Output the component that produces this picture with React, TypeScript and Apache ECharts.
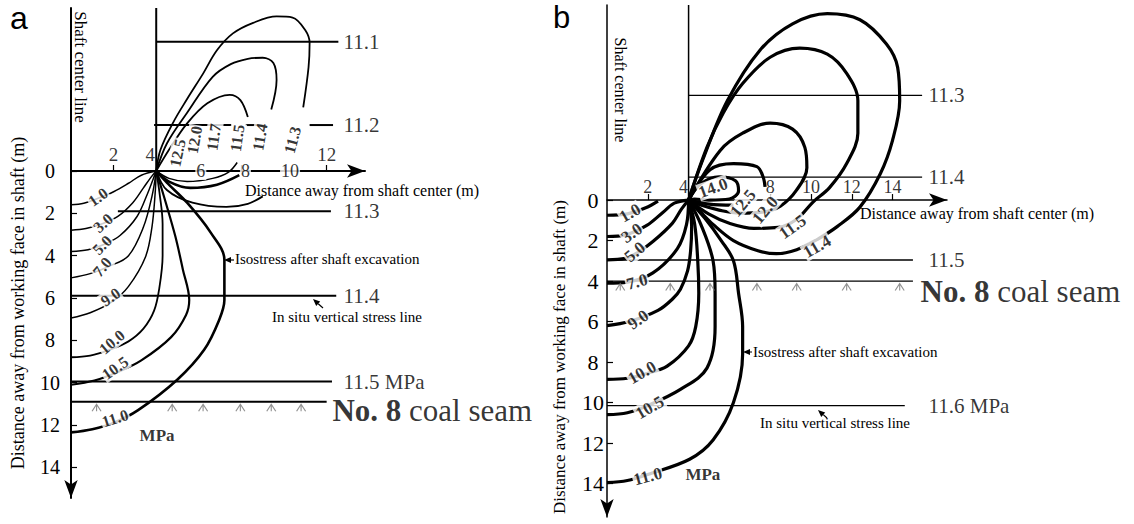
import React, { useEffect, useRef } from "react";
import * as echarts from "echarts";

const SERIF = "Liberation Serif";
const SANS = "Liberation Sans";

// ================= Panel a =================
const aYTicks = [0, 2, 4, 6, 8, 10, 12, 14];
const aXTickMarks = [2, 6, 8, 10, 12];
const aXLabelsAbove = [2, 4, 12];
const aXLabelsOnAxis = [6, 8, 10];
const aDepthMin = -7.7;
const aDepthMax = 15.45;
const aDistMax = 13.8;
const aWallX = 4;

const aStressNames = ["11.1", "11.2", "11.3", "11.4", "11.5 MPa"];
const aStressDepth = [-6.1, -2.17, 1.9, 5.9, 9.95];
const aStressFrom = [4, 3.9, 2.2, 0, 0];
const aStressTo = [12.55, 12.3, 12.2, 12.45, 12.25];
const aDashFrom = [3.9, 8.2, 11.2];
const aDashTo = [7.55, 9.0, 12.3];
const aStressLabelX = 12.77;
const aSeamDepth = 10.9;
const aSeamTo = 12.0;
const aSeamLabelAt = [12.25, 11.3];
const aHatchX = [1.2, 4.75, 6.2, 7.95, 9.4, 10.8];

const a1_0 = [[0, 1.6], [0.6, 1.52], [1.3, 1.28], [2.0, 0.98], [2.7, 0.58], [3.3, 0.2], [4, 0]];
const a3_0 = [[0, 2.8], [0.7, 2.72], [1.5, 2.48], [2.2, 2.15], [2.9, 1.5], [3.4, 0.8], [3.75, 0.3], [4, 0]];
const a5_0 = [[0, 3.8], [0.8, 3.72], [1.6, 3.45], [2.3, 3.05], [3.1, 2.15], [3.6, 1.05], [3.85, 0.4], [4, 0]];
const a7_0 = [[0, 5.05], [0.9, 4.85], [1.8, 4.5], [2.7, 4.0], [3.4, 2.65], [3.8, 1.2], [4, 0]];
const a9_0 = [[0, 6.95], [0.9, 6.7], [1.9, 6.2], [2.7, 5.45], [3.5, 4.05], [3.8, 2.65], [3.95, 1.05], [4, 0]];
const a10_0 = [[0, 8.8], [0.9, 8.72], [1.8, 8.45], [2.7, 8.05], [3.4, 7.45], [3.9, 6.6], [4.15, 5.5], [4.3, 4.0], [4.3, 2.5], [4.15, 1.0], [4, 0]];
const a10_5 = [[0, 10.1], [1.1, 9.9], [2.2, 9.5], [3.3, 8.95], [4.7, 7.85], [5.4, 6.8], [5.55, 6.1], [5.25, 4.65], [4.9, 3.1], [4.45, 1.5], [4, 0]];
const a11_0 = [[0, 12.35], [1.0, 12.2], [2.0, 11.9], [3.15, 11.3], [5.0, 9.85], [6.25, 8.45], [6.95, 7.05], [7.2, 6.1], [7.2, 4.2], [6.55, 2.9], [5.45, 1.5], [4.5, 0.55], [4, 0]];
const aU11_3 = [[4, 0], [4.2, -1.0], [4.8, -2.3], [5.45, -3.4], [6.2, -4.6], [6.85, -5.7], [7.6, -6.5], [8.55, -7.0], [9.65, -7.3], [10.4, -7.25], [11.0, -6.65], [11.2, -6.05], [11.15, -4.9], [10.9, -3.0]];
const aU11_4 = [[4, 0], [4.5, -1.3], [5.45, -2.75], [6.65, -4.45], [7.5, -5.05], [8.3, -5.3], [9.0, -5.35], [9.5, -5.1], [9.65, -4.3], [9.4, -2.9]];
const aU11_5 = [[4, 0], [4.6, -1.0], [5.45, -2.25], [6.4, -3.2], [7.45, -3.6], [7.95, -3.35], [8.3, -2.55]];
const aR1 = [[4, 0], [4.6, 0.35], [5.45, 0.5], [6.65, 0.35], [7.4, 0.05], [7.8, -0.4]];
const aR2 = [[4, 0], [4.6, 0.5], [5.6, 0.8], [6.85, 0.65], [7.9, 0.2]];
const aR3 = [[4, 0], [4.5, 0.9], [5.7, 1.5], [7.3, 1.7], [8.3, 1.55], [9.0, 1.2]];

const aLabelText = ["1.0", "3.0", "5.0", "7.0", "9.0", "10.0", "10.5", "11.0", "12.5", "12.0", "11.7", "11.5", "11.4", "11.3"];
const aLabelAt = [[1.27, 1.23], [1.5, 2.46], [1.46, 3.5], [1.46, 4.54], [1.85, 5.95], [1.92, 8.08], [2.07, 9.31], [2.07, 11.68], [5.0, -0.85], [5.8, -1.47], [6.7, -1.6], [7.8, -1.56], [8.87, -1.6], [10.4, -1.47]];
const aLabelAngle = [35, 42, 45, 50, 35, 40, 35, 18, 78, 80, 82, 82, 80, 75];
const aUnitAt = [4.04, 12.48];

// ================= Panel b =================
const bYTicks = [0, 2, 4, 6, 8, 10, 12, 14];
const bXTickMarks = [2, 8, 10, 12, 14];
const bXLabels = [2, 4, 8, 10, 12, 14];
const bDepthMin = -9.63;
const bDepthMax = 15.65;
const bDistMax = 16.67;
const bWallX = 4;

const bStressNames = ["11.3", "11.4", "11.5", "11.6 MPa"];
const bStressDepth = [-5.17, -1.13, 2.96, 10.15];
const bStressFrom = [4, 4, 0, 0];
const bStressTo = [15.45, 15.45, 15.0, 14.6];
const bStressLabelX = 15.74;
const bSeamDepth = 4.0;
const bSeamTo = 15.0;
const bSeamLabelAt = [15.35, 4.54];
const bHatchX = [0.65, 3.1, 5.05, 7.35, 9.3, 11.75, 14.35];

const b1_0 = [[0, 0.75], [1.0, 0.68], [1.9, 0.38], [2.5, 0.05]];
const b3_0 = [[0, 1.8], [0.9, 1.72], [1.95, 1.25], [2.75, 0.6], [3.3, 0.15], [4, 0]];
const b5_0 = [[0, 2.95], [0.9, 2.88], [1.5, 2.6], [2.25, 2.05], [3.2, 1.15], [3.65, 0.45], [4, 0]];
const b7_0 = [[0, 4.1], [1.0, 4.05], [2.25, 3.6], [3.45, 2.4], [3.9, 1.2], [4, 0]];
const b9_0 = [[0, 6.2], [1.1, 6.0], [2.5, 5.45], [3.2, 4.9], [3.6, 4.4], [3.95, 3.5], [4.1, 2.5], [4.15, 1.3], [4, 0]];
const b10_0 = [[0, 8.85], [1.0, 8.8], [2.0, 8.55], [2.95, 8.2], [4.0, 7.2], [4.35, 6.25], [4.5, 4.6], [4.45, 3.0], [4.3, 1.2], [4, 0]];
const b10_5 = [[0, 10.6], [1.0, 10.5], [2.0, 10.15], [3.6, 9.35], [4.9, 8.3], [5.3, 6.25], [5.3, 4.6], [5.2, 3.0], [4.6, 1.2], [4, 0]];
const b11_0 = [[0, 13.95], [1.0, 13.85], [2.0, 13.55], [4.05, 12.8], [5.2, 11.85], [6.2, 10.0], [6.65, 7.6], [6.65, 6.25], [6.45, 4.6], [6.2, 3.0], [5.6, 2.0], [4.8, 0.9], [4, 0]];
const b11_4 = [[4, 0], [4.7, -2.0], [5.9, -4.9], [7.5, -7.4], [9.1, -8.7], [10.8, -9.2], [12.4, -8.9], [13.7, -7.7], [14.25, -6.55], [14.35, -4.9], [14.0, -2.95], [13.4, -1.3], [12.4, 0.35], [11.3, 1.3], [10.3, 1.95], [9.3, 2.45], [8.3, 2.65], [7.4, 2.5], [6.2, 2.0], [5.2, 1.2], [4.55, 0.55], [4, 0]];
const b11_5 = [[4, 0], [4.9, -2.6], [5.7, -4.3], [6.65, -5.75], [8.0, -7.05], [9.45, -7.5], [10.8, -7.2], [11.75, -6.25], [12.3, -4.9], [12.3, -3.3], [11.75, -1.8], [10.9, -0.6], [10.1, 0.1], [9.3, 0.95], [8.4, 1.35], [7.2, 1.4], [6.0, 1.15], [5.0, 0.7], [4, 0]];
const b12_0 = [[4, 0], [5.55, -2.45], [6.65, -3.3], [8.0, -3.8], [9.1, -3.5], [9.7, -2.6], [9.8, -1.6], [9.3, -0.5], [8.5, 0.3], [7.6, 0.6], [6.5, 0.65], [5.5, 0.5], [4.6, 0.25], [4, 0]];
const b12_5Upper = [[4, 0], [5.05, -1.5], [6.2, -1.8], [7.35, -1.65], [7.65, -1.15], [7.75, -0.65]];
const b12_5Lower = [[4, 0], [5.0, 0.2], [6.2, 0.25]];
const b14_0 = [[4, 0], [4.6, -0.8], [5.5, -1.15], [6.3, -0.95], [6.45, -0.45], [6.0, -0.05], [5.0, 0.0], [4.3, -0.05], [4, 0]];

const bLabelText = ["1.0", "3.0", "5.0", "7.0", "9.0", "10.0", "10.5", "11.0", "14.0", "12.5", "12.0", "11.5", "11.4"];
const bLabelAt = [[1.13, 0.64], [1.22, 1.63], [1.37, 2.56], [1.47, 4.04], [1.52, 5.91], [1.72, 8.52], [2.1, 10.25], [2.0, 13.65], [5.2, -0.6], [6.67, 0.15], [7.75, 0.5], [9.1, 1.33], [10.3, 2.3]];
const bLabelAngle = [30, 35, 40, 15, 35, 30, 30, 15, 20, 50, 50, 35, 30];
const bUnitAt = [4.7, 13.55];

// ================= option building =================
const HATCH = "path://M0 10 L5 0 L10 10 M5 0 L5 10";

function line(g: number, data: number[][], width: number, smooth: number | boolean = 0.35) {
  return {
    type: "line", xAxisIndex: g, yAxisIndex: g, data, symbol: "none", smooth,
    silent: true, z: 3, lineStyle: { color: "#000", width },
  };
}

function labels(g: number, texts: string[], at: number[][], angles: number[], size: number) {
  return {
    type: "scatter", xAxisIndex: g, yAxisIndex: g, symbolSize: 1, silent: true, z: 10,
    itemStyle: { color: "rgba(0,0,0,0)" },
    data: at.map((p, i) => ({ value: p, label: { formatter: texts[i], rotate: angles[i] } })),
    label: { show: true, position: "inside", color: "#000", fontFamily: SERIF, fontWeight: "bold", fontSize: size, backgroundColor: "#fff", padding: [0, 1], lineHeight: size },
  };
}

function textAt(g: number, texts: string[], at: number[][], size: number, extra: any = {}, offsets?: number[][]) {
  return {
    type: "scatter", xAxisIndex: g, yAxisIndex: g, symbolSize: 1, silent: true, z: 10,
    itemStyle: { color: "rgba(0,0,0,0)" },
    data: at.map((p, i) => ({ value: p, label: { formatter: texts[i], fontFamily: SERIF, ...(offsets ? { offset: offsets[i] } : {}) } })),
    label: { show: true, position: "right", distance: 0, color: "#000", fontFamily: SERIF, fontSize: size, ...extra },
  };
}

function hatches(g: number, xs: number[], depth: number) {
  return {
    type: "scatter", xAxisIndex: g, yAxisIndex: g, symbol: HATCH, symbolSize: [9, 7], symbolOffset: [0, 6],
    silent: true, z: 4, itemStyle: { color: "rgba(0,0,0,0)", borderColor: "#777", borderWidth: 1 },
    data: xs.map((x) => [x, depth]),
  };
}

function arrow(x1: number, y1: number, x2: number, y2: number) {
  const ang = Math.atan2(y2 - y1, x2 - x1);
  const L = 7, W = 3;
  const bx = x2 - L * Math.cos(ang), by = y2 - L * Math.sin(ang);
  const px = -Math.sin(ang) * W, py = Math.cos(ang) * W;
  return [
    { type: "line", shape: { x1, y1, x2: bx, y2: by }, style: { stroke: "#000", lineWidth: 1.2 } },
    { type: "polygon", shape: { points: [[x2, y2], [bx + px, by + py], [bx - px, by - py]] }, style: { fill: "#000" } },
  ];
}

function gtext(text: string, x: number, y: number, size: number, opts: any = {}) {
  const { rotation = 0, align = "left", font = SERIF, weight = "normal" } = opts;
  return {
    type: "text", x, y, rotation, z: 20,
    style: { text, fontSize: size, fontFamily: font, fontWeight: weight, fill: "#000", align, verticalAlign: "middle" },
  };
}

function xAxisCfg(g: number, max: number, ticks: number[], w: number) {
  return {
    type: "value", gridIndex: g, min: 0, max,
    axisLine: { show: true, onZero: true, symbol: ["none", "arrow"], symbolSize: [10, 18], lineStyle: { color: "#000", width: w } },
    axisTick: { show: true, inside: true, length: 6, customValues: ticks, lineStyle: { color: "#000", width: 1.2 } },
    axisLabel: { show: false }, splitLine: { show: false },
  };
}

function yAxisCfg(g: number, min: number, max: number, ticks: number[], w: number, margin: number, size: number) {
  return {
    type: "value", gridIndex: g, inverse: true, min, max,
    axisLine: { show: true, onZero: false, symbol: ["arrow", "none"], symbolSize: [10, 18], lineStyle: { color: "#000", width: w } },
    axisTick: { show: true, inside: true, length: 6, customValues: ticks, lineStyle: { color: "#000", width: 1.2 } },
    axisLabel: { show: true, customValues: ticks, align: "center", margin, fontSize: size, fontFamily: SERIF, color: "#000" },
    splitLine: { show: false },
  };
}

function buildOption() {
  const series: any[] = [];
  // ---- panel a
  series.push(line(0, [[aWallX, aDepthMin], [aWallX, 0]], 2, false));
  aStressNames.forEach((n, i) => {
    if (i === 1) return;
    series.push(line(0, [[aStressFrom[i], aStressDepth[i]], [aStressTo[i], aStressDepth[i]]], 2, false));
  });
  aDashFrom.forEach((f, i) => series.push(line(0, [[f, aStressDepth[1]], [aDashTo[i], aStressDepth[1]]], 2, false)));
  series.push(line(0, [[0, aSeamDepth], [aSeamTo, aSeamDepth]], 2, false));
  series.push(hatches(0, aHatchX, aSeamDepth));
  [a1_0, a3_0, a5_0, a7_0, a9_0].forEach((c) => series.push(line(0, c, 1.5)));
  series.push(line(0, a10_0, 1.8));
  series.push(line(0, a10_5, 2.2));
  series.push(line(0, a11_0, 2.6));
  [aU11_3, aU11_4, aU11_5].forEach((c) => series.push(line(0, c, 1.8)));
  series.push(line(0, aR1, 1.5));
  series.push(line(0, aR2, 2.6));
  series.push(line(0, aR3, 1.8));
  series.push(labels(0, aLabelText, aLabelAt, aLabelAngle, 16));
  series.push(textAt(0, ["MPa"], [aUnitAt], 17, { position: "inside", fontWeight: "bold" }));
  series.push(textAt(0, aStressNames, aStressDepth.map((d) => [aStressLabelX, d]), 21));
  series.push(textAt(0, ["{b|No. 8} coal seam"], [aSeamLabelAt], 31, { rich: { b: { fontWeight: "bold", fontSize: 31, fontFamily: SERIF } } }));
  series.push(textAt(0, aXLabelsAbove.map(String), aXLabelsAbove.map((v) => [v, 0]), 19, { position: "top", distance: 6 },
    aXLabelsAbove.map((v) => (v === aWallX ? [-6, 0] : [0, 0]))));
  series.push(textAt(0, aXLabelsOnAxis.map(String), aXLabelsOnAxis.map((v) => [v, 0]), 18, { position: "inside", backgroundColor: "#fff", padding: [0, 1] },
    aXLabelsOnAxis.map((v, i) => [2 + i * 2, 0])));

  // ---- panel b
  series.push(line(1, [[bWallX, bDepthMin], [bWallX, 0]], 1.5, false));
  bStressNames.forEach((n, i) => series.push(line(1, [[bStressFrom[i], bStressDepth[i]], [bStressTo[i], bStressDepth[i]]], 1.3, false)));
  series.push(line(1, [[0, bSeamDepth], [bSeamTo, bSeamDepth]], 1.3, false));
  series.push(hatches(1, bHatchX, bSeamDepth));
  [b1_0, b3_0, b5_0, b7_0, b9_0, b10_0, b10_5, b11_0, b11_4, b11_5, b12_0, b12_5Upper, b12_5Lower, b14_0].forEach((c) => series.push(line(1, c, 3.2)));
  series.push(labels(1, bLabelText, bLabelAt, bLabelAngle, 17));
  series.push(textAt(1, ["MPa"], [bUnitAt], 17, { position: "inside", fontWeight: "bold" }));
  series.push(textAt(1, bStressNames, bStressDepth.map((d) => [bStressLabelX, d]), 21));
  series.push(textAt(1, ["{b|No. 8} coal seam"], [bSeamLabelAt], 31, { rich: { b: { fontWeight: "bold", fontSize: 31, fontFamily: SERIF } } }));
  series.push(textAt(1, bXLabels.map(String), bXLabels.map((v) => [v, 0]), 18, { position: "top", distance: 4 },
    bXLabels.map((v) => (v === bWallX ? [-5, 0] : [0, 0]))));

  const graphic: any[] = [
    gtext("a", 10, 18, 32, { font: SANS }),
    gtext("b", 553, 17, 31, { font: SANS }),
    gtext("Distance away from working face in shaft (m)", 18, 303, 18, { rotation: Math.PI / 2, align: "center" }),
    gtext("Distance away from working face in shaft (m)", 559, 357, 17, { rotation: Math.PI / 2, align: "center" }),
    gtext("Shaft center line", 80, 67, 17, { rotation: -Math.PI / 2, align: "center" }),
    gtext("Shaft center line", 620, 90, 16, { rotation: -Math.PI / 2, align: "center" }),
    gtext("Distance away from shaft center (m)", 245, 190, 16),
    gtext("Distance away from shaft center (m)", 860, 213, 16),
    gtext("Isostress after shaft excavation", 235, 259, 15),
    gtext("Isostress after shaft excavation", 753, 352, 15),
    gtext("In situ vertical stress line", 272, 317, 15),
    gtext("In situ vertical stress line", 760, 423, 15),
    ...arrow(234, 260, 224, 260),
    ...arrow(752, 352, 743, 352),
    ...arrow(323, 308, 313, 299),
    ...arrow(827, 418, 818, 410),
  ];

  return {
    animation: false,
    backgroundColor: "#fff",
    grid: [
      { left: 71, top: 8, width: 294, height: 490 },
      { left: 607, top: 5, width: 340, height: 512 },
    ],
    xAxis: [xAxisCfg(0, aDistMax, aXTickMarks, 2), xAxisCfg(1, bDistMax, bXTickMarks, 1.5)],
    yAxis: [
      yAxisCfg(0, aDepthMin, aDepthMax, aYTicks, 2, 21, 20),
      yAxisCfg(1, bDepthMin, bDepthMax, bYTicks, 1.5, 14, 22),
    ],
    series,
    graphic,
  };
}

export default function App() {
  const ref = useRef<HTMLDivElement>(null);
  useEffect(() => {
    if (!ref.current) return;
    const chart = echarts.init(ref.current, undefined, { renderer: "svg" });
    chart.setOption(buildOption() as any);
    return () => chart.dispose();
  }, []);
  return <div ref={ref} style={{ width: 1134, height: 524, position: "absolute", left: 0, top: 0 }} />;
}
